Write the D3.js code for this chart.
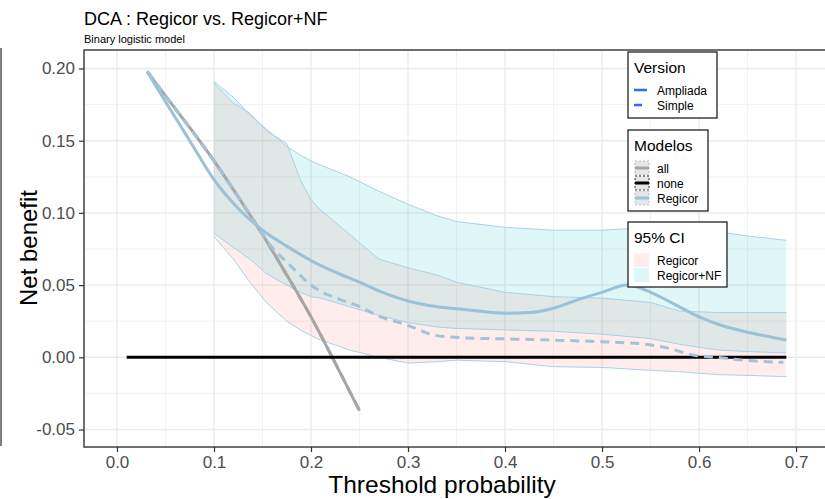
<!DOCTYPE html>
<html>
<head>
<meta charset="utf-8">
<script src="https://cdn.jsdelivr.net/npm/d3@7"></script>
<style>
  body { margin: 0; background: #fff; }
  svg { font-family: "Liberation Sans", Arial, sans-serif; }
</style>
</head>
<body>
<div id="chart"></div>
<script>
// values
const allX = [0.031, 0.05, 0.075, 0.1, 0.125, 0.15, 0.175, 0.2, 0.225, 0.25];
const allNB = [0.198, 0.181, 0.159, 0.136, 0.111, 0.085, 0.057, 0.028, -0.004, -0.037];

const noneX = [0.01, 0.69];
const noneNB = [0, 0];

const ampliadaX = [0.031, 0.05, 0.075, 0.1, 0.125, 0.15, 0.175, 0.2, 0.225, 0.25, 0.27, 0.3, 0.33, 0.36, 0.4, 0.426, 0.45, 0.48, 0.5, 0.526, 0.55, 0.574, 0.6, 0.625, 0.653, 0.69];
const ampliadaNB = [0.198, 0.177, 0.150, 0.123, 0.103, 0.088, 0.077, 0.067, 0.059, 0.052, 0.046, 0.039, 0.035, 0.033, 0.0305, 0.031, 0.034, 0.041, 0.045, 0.050, 0.045, 0.037, 0.028, 0.0217, 0.017, 0.012];

const simpleX = [0.031, 0.05, 0.075, 0.1, 0.125, 0.15, 0.16, 0.178, 0.202, 0.23, 0.251, 0.268, 0.299, 0.326, 0.354, 0.405, 0.447, 0.498, 0.543, 0.57, 0.594, 0.619, 0.646, 0.687];
const simpleNB = [0.198, 0.181, 0.159, 0.136, 0.111, 0.085, 0.076, 0.064, 0.049, 0.040, 0.035, 0.029, 0.0224, 0.0155, 0.0136, 0.0127, 0.012, 0.0108, 0.0092, 0.006, 0.0016, 0.0, -0.002, -0.0035];

const ciX = [0.10, 0.12, 0.137, 0.154, 0.175, 0.189, 0.20, 0.21, 0.24, 0.27, 0.30, 0.33, 0.35, 0.40, 0.45, 0.50, 0.55, 0.58, 0.62, 0.65, 0.69];
const nfUpper = [0.191, 0.180, 0.168, 0.158, 0.146, 0.140, 0.136, 0.133, 0.125, 0.115, 0.106, 0.098, 0.094, 0.090, 0.088, 0.088, 0.090, 0.089, 0.087, 0.084, 0.081];
const nfLower = [0.086, 0.076, 0.068, 0.058, 0.050, 0.045, 0.042, 0.041, 0.035, 0.029, 0.024, 0.021, 0.020, 0.019, 0.018, 0.016, 0.013, 0.009, 0.005, 0.004, 0.003];
const regUpper = [0.190, 0.176, 0.169, 0.157, 0.148, 0.123, 0.109, 0.102, 0.085, 0.068, 0.062, 0.057, 0.052, 0.045, 0.042, 0.041, 0.038, 0.032, 0.031, 0.031, 0.031];
const regLower = [0.0835, 0.068, 0.052, 0.038, 0.025, 0.019, 0.015, 0.012, 0.005, 0.0, -0.004, -0.003, -0.002, -0.003, -0.0065, -0.007, -0.009, -0.010, -0.012, -0.0125, -0.0134];

const xTicks = [0, 0.1, 0.2, 0.3, 0.4, 0.5, 0.6, 0.7];
const yTicks = [-0.05, 0, 0.05, 0.10, 0.15, 0.20];

const width = 825, height = 499;
const panel = {left: 84, right: 830, top: 50, bottom: 447};

const svg = d3.select("#chart").append("svg")
  .attr("width", width).attr("height", height);

const x = d3.scaleLinear().domain([-0.034, 0.735]).range([panel.left, panel.right]);
const y = d3.scaleLinear().domain([-0.0621, 0.2128]).range([panel.bottom, panel.top]);

svg.append("clipPath").attr("id", "clip")
  .append("rect")
  .attr("x", panel.left).attr("y", panel.top)
  .attr("width", panel.right - panel.left).attr("height", panel.bottom - panel.top);

// grid
const grid = svg.append("g");
const xMinor = d3.range(0.05, 0.75, 0.1);
const yMinor = [-0.025, 0.025, 0.075, 0.125, 0.175];
grid.selectAll("line.xm").data(xMinor).join("line")
  .attr("x1", d => x(d)).attr("x2", d => x(d))
  .attr("y1", panel.top).attr("y2", panel.bottom)
  .attr("stroke", "#f2f2f2").attr("stroke-width", 1);
grid.selectAll("line.ym").data(yMinor).join("line")
  .attr("y1", d => y(d)).attr("y2", d => y(d))
  .attr("x1", panel.left).attr("x2", panel.right)
  .attr("stroke", "#f2f2f2").attr("stroke-width", 1);
grid.selectAll("line.xg").data(xTicks).join("line")
  .attr("x1", d => x(d)).attr("x2", d => x(d))
  .attr("y1", panel.top).attr("y2", panel.bottom)
  .attr("stroke", "#ebebeb").attr("stroke-width", 1.4);
grid.selectAll("line.yg").data(yTicks).join("line")
  .attr("y1", d => y(d)).attr("y2", d => y(d))
  .attr("x1", panel.left).attr("x2", panel.right)
  .attr("stroke", "#ebebeb").attr("stroke-width", 1.4);

const plot = svg.append("g").attr("clip-path", "url(#clip)");

// confidence ribbons
const band = (lo, hi) => d3.area()
  .x((d, i) => x(ciX[i]))
  .y0((d, i) => y(lo[i]))
  .y1((d, i) => y(hi[i]));
const edge = arr => d3.line().x((d, i) => x(ciX[i])).y((d, i) => y(arr[i]));

plot.append("path").datum(ciX).attr("d", band(regLower, regUpper))
  .attr("fill", "#F8766D").attr("fill-opacity", 0.13);
plot.append("path").datum(ciX).attr("d", band(nfLower, nfUpper))
  .attr("fill", "#00BFC4").attr("fill-opacity", 0.12);
[regLower, regUpper, nfLower, nfUpper].forEach(arr => {
  plot.append("path").datum(ciX).attr("d", edge(arr))
    .attr("fill", "none").attr("stroke", "#a9d2e6").attr("stroke-width", 1);
});

// curves
const line = (xs, ys) => d3.line().curve(d3.curveMonotoneX)
  .x((d, i) => x(xs[i])).y((d, i) => y(ys[i]));

plot.append("path").datum(allX).attr("d", line(allX, allNB))
  .attr("fill", "none").attr("stroke", "#a6a6a6").attr("stroke-width", 3);
plot.append("path").datum(allX).attr("d", line(allX, allNB))
  .attr("fill", "none").attr("stroke", "#a6a6a6").attr("stroke-width", 3)
  .attr("stroke-dasharray", "9,6");
plot.append("path").datum(noneX).attr("d", line(noneX, noneNB))
  .attr("fill", "none").attr("stroke", "#000").attr("stroke-width", 3);
plot.append("path").datum(ampliadaX).attr("d", line(ampliadaX, ampliadaNB))
  .attr("fill", "none").attr("stroke", "#99c2d6").attr("stroke-width", 3);
plot.append("path").datum(simpleX).attr("d", line(simpleX, simpleNB))
  .attr("fill", "none").attr("stroke", "#a3c3d6").attr("stroke-width", 3)
  .attr("stroke-dasharray", "9,6");

// panel border
svg.append("rect")
  .attr("x", panel.left).attr("y", panel.top)
  .attr("width", panel.right - panel.left).attr("height", panel.bottom - panel.top)
  .attr("fill", "none").attr("stroke", "#4d4d4d").attr("stroke-width", 1.6);

// axes
const xAxis = svg.append("g")
  .attr("transform", `translate(0,${panel.bottom})`)
  .call(d3.axisBottom(x).tickValues(xTicks).tickFormat(d => d.toFixed(1)).tickSize(5).tickPadding(4));
const yAxis = svg.append("g")
  .attr("transform", `translate(${panel.left},0)`)
  .call(d3.axisLeft(y).tickValues(yTicks).tickFormat(d => d.toFixed(2)).tickSize(5).tickPadding(4));
[xAxis, yAxis].forEach(g => {
  g.select(".domain").remove();
  g.selectAll(".tick line").attr("stroke", "#333").attr("stroke-width", 1.2);
  g.selectAll(".tick text").attr("fill", "#4d4d4d")
    .style("font-size", "17px").style("font-family", "Liberation Sans, Arial, sans-serif");
});

// stray frame line at the left edge
svg.append("line").attr("x1", 1).attr("x2", 1).attr("y1", 48).attr("y2", 446)
  .attr("stroke", "#555").attr("stroke-width", 1.5);

// titles
svg.append("text").attr("x", 84).attr("y", 25)
  .style("font-size", "18px").attr("fill", "#000").text("DCA : Regicor vs. Regicor+NF");
svg.append("text").attr("x", 84).attr("y", 43)
  .style("font-size", "11px").attr("fill", "#000").text("Binary logistic model");
svg.append("text").attr("x", 442).attr("y", 493).attr("text-anchor", "middle")
  .style("font-size", "24.5px").attr("fill", "#000").text("Threshold probability");
svg.append("text").attr("transform", "translate(37,248) rotate(-90)").attr("text-anchor", "middle")
  .style("font-size", "24px").attr("fill", "#000").text("Net benefit");

// legends
const legendBox = (x0, y0, w, h, title) => {
  const g = svg.append("g").attr("transform", `translate(${x0},${y0})`);
  g.append("rect").attr("width", w).attr("height", h)
    .attr("fill", "#fff").attr("stroke", "#222").attr("stroke-width", 1.3);
  g.append("text").attr("x", 6).attr("y", 21).style("font-size", "15.5px").text(title);
  return g;
};

const versionNames = ["Ampliada", "Simple"];
const gv = legendBox(628, 52, 89, 66, "Version");
versionNames.forEach((n, i) => {
  const yy = 38 + i * 15;
  gv.append("line").attr("x1", 6).attr("x2", i === 0 ? 19 : 14).attr("y1", yy).attr("y2", yy)
    .attr("stroke", "#3366FF").attr("stroke-width", 2.5);
  gv.append("text").attr("x", 29).attr("y", yy + 4.5).style("font-size", "12px").text(n);
});

const modelNames = ["all", "none", "Regicor"];
const modelColors = ["#a6a6a6", "#000", "#99c2d6"];
const gm = legendBox(628, 130, 80, 81, "Modelos");
modelNames.forEach((n, i) => {
  const yy = 38 + i * 15;
  gm.append("rect").attr("x", 7).attr("y", yy - 7).attr("width", 14).attr("height", 14)
    .attr("fill", "#e6e6e6").attr("stroke", modelColors[i]).attr("stroke-width", 0.8)
    .attr("stroke-dasharray", "2,2");
  gm.append("line").attr("x1", 7).attr("x2", 21).attr("y1", yy).attr("y2", yy)
    .attr("stroke", modelColors[i]).attr("stroke-width", 3);
  gm.append("text").attr("x", 29).attr("y", yy + 4.5).style("font-size", "12px").text(n);
});

const ciNames = ["Regicor", "Regicor+NF"];
const ciColors = ["#F8766D", "#00BFC4"];
const gc = legendBox(628, 222, 99, 65, "95% CI");
ciNames.forEach((n, i) => {
  const yy = 38 + i * 15;
  gc.append("rect").attr("x", 6).attr("y", yy - 7).attr("width", 15).attr("height", 14)
    .attr("fill", ciColors[i]).attr("fill-opacity", 0.13);
  gc.append("text").attr("x", 29).attr("y", yy + 4.5).style("font-size", "12px").text(n);
});
</script>
</body>
</html>
